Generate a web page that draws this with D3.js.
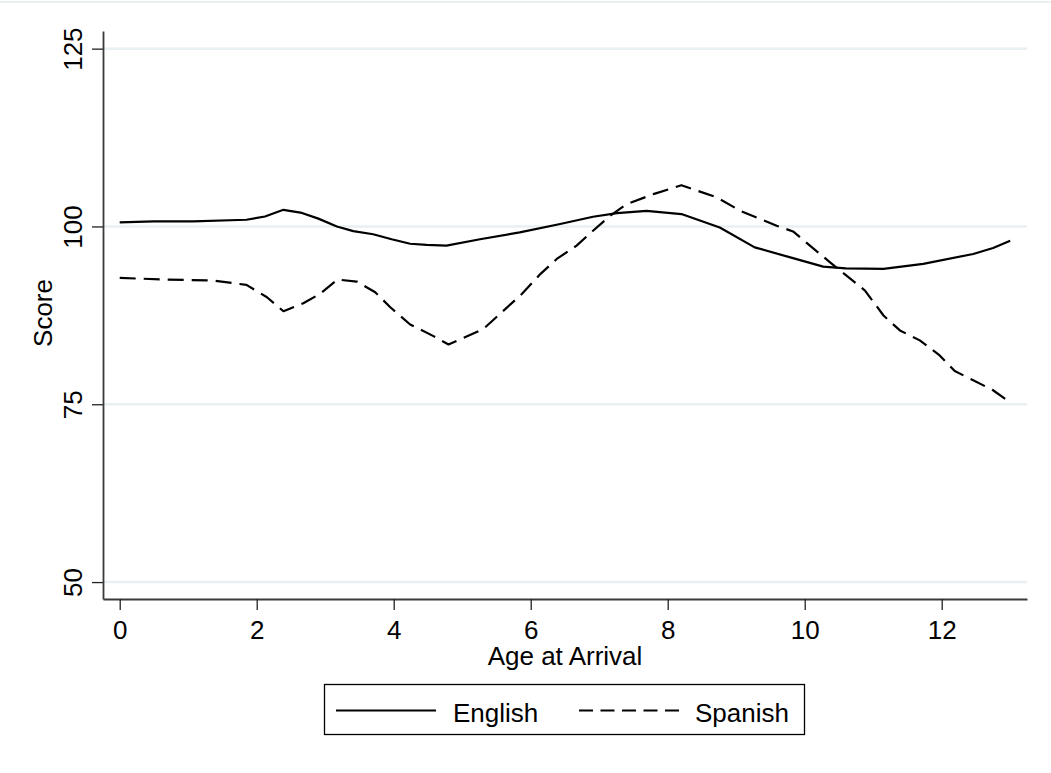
<!DOCTYPE html>
<html>
<head>
<meta charset="utf-8">
<script src="https://cdn.jsdelivr.net/npm/d3@7"></script>
<style>
  html, body { margin: 0; padding: 0; background: #fff; }
  svg { display: block; font-family: "Liberation Sans", Arial, sans-serif; }
</style>
</head>
<body>
<svg id="chart" width="1051" height="773"></svg>
<script>
// ---- data ----
const englishAge = [0, 0.5, 1.07, 1.85, 2.12, 2.39, 2.66, 2.9, 3.17, 3.41, 3.70, 3.97, 4.24, 4.48, 4.77, 5.26, 5.84, 6.43, 6.91, 7.26, 7.69, 8.20, 8.76, 9.27, 9.79, 10.27, 10.6, 11.15, 11.73, 12.46, 12.75, 13.0];
const englishScore = [100.56, 100.7, 100.7, 100.94, 101.4, 102.34, 101.9, 101.1, 100.0, 99.35, 98.9, 98.2, 97.57, 97.4, 97.3, 98.2, 99.16, 100.34, 101.36, 101.87, 102.2, 101.74, 99.86, 97.06, 95.65, 94.35, 94.1, 94.03, 94.73, 96.13, 96.97, 98.0];

const spanishAge = [0, 0.69, 1.37, 1.85, 2.15, 2.39, 2.68, 2.92, 3.18, 3.46, 3.73, 3.95, 4.24, 4.58, 4.80, 5.31, 5.55, 5.87, 6.14, 6.38, 6.67, 6.91, 7.16, 7.40, 7.79, 8.20, 8.72, 9.06, 9.59, 9.83, 10.37, 10.88, 11.15, 11.39, 11.68, 11.97, 12.19, 12.46, 12.75, 12.97];
const spanishScore = [92.76, 92.53, 92.4, 91.78, 90.05, 88.08, 89.2, 90.5, 92.53, 92.25, 90.75, 88.64, 86.22, 84.58, 83.4, 85.6, 87.7, 90.5, 93.3, 95.43, 97.3, 99.4, 101.5, 103.14, 104.54, 105.8, 104.07, 102.2, 100.1, 99.3, 94.95, 90.99, 87.48, 85.38, 83.98, 81.87, 79.67, 78.37, 76.97, 75.47];

const xTicks = [0, 2, 4, 6, 8, 10, 12];
const yTicks = [50, 75, 100, 125];
const seriesNames = ["English", "Spanish"];
const xTitle = "Age at Arrival";
const yTitle = "Score";

(function () {
  // ---- layout ----
  const svg = d3.select("#chart");
  const pLeft = 103, pRight = 1027, pTop = 31, pBottom = 599;
  const FONT = 26;

  const x = d3.scaleLinear().domain([-0.244, 13.245]).range([pLeft, pRight]);
  const y = d3.scaleLinear().domain([47.62, 127.48]).range([pBottom, pTop]);

  // outer region top edge
  svg.append("line")
    .attr("x1", 0).attr("x2", 1051).attr("y1", 2).attr("y2", 2)
    .attr("stroke", "#e8f0f2").attr("stroke-width", 2);

  // gridlines
  svg.append("g").selectAll("line").data(yTicks).join("line")
    .attr("x1", pLeft).attr("x2", pRight)
    .attr("y1", d => y(d)).attr("y2", d => y(d))
    .attr("stroke", "#e8f0f2").attr("stroke-width", 2.5);

  // axes
  const yAxis = svg.append("g")
    .attr("transform", `translate(${pLeft},0)`)
    .call(d3.axisLeft(y).tickValues(yTicks).tickSize(11).tickSizeOuter(0).tickFormat(d3.format("d")));
  const xAxis = svg.append("g")
    .attr("transform", `translate(0,${pBottom})`)
    .call(d3.axisBottom(x).tickValues(xTicks).tickSize(11).tickSizeOuter(0).tickFormat(d3.format("d")));

  [yAxis, xAxis].forEach(g => {
    g.select(".domain").attr("stroke", "#3a3a3a").attr("stroke-width", 1.8);
    g.selectAll(".tick line").attr("stroke", "#222").attr("stroke-width", 1.3);
    g.selectAll(".tick text")
      .attr("fill", "#000")
      .style("font-size", FONT + "px")
      .style("font-family", '"Liberation Sans", Arial, sans-serif');
  });

  yAxis.selectAll(".tick text")
    .attr("transform", "rotate(-90)")
    .attr("x", 0).attr("y", -21).attr("dy", 0)
    .attr("text-anchor", "middle");

  xAxis.selectAll(".tick text")
    .attr("y", 40).attr("dy", 0)
    .attr("text-anchor", "middle");

  // axis titles
  svg.append("text")
    .attr("x", (pLeft + pRight) / 2).attr("y", 665)
    .attr("text-anchor", "middle")
    .style("font-size", FONT + "px")
    .text(xTitle);

  svg.append("text")
    .attr("transform", `translate(52,${(pTop + pBottom) / 2 - 2}) rotate(-90)`)
    .attr("text-anchor", "middle")
    .style("font-size", FONT + "px")
    .text(yTitle);

  // lines
  const line = d3.line().x(d => x(d[0])).y(d => y(d[1]));
  const englishData = englishAge.map((a, i) => [a, englishScore[i]]);
  const spanishData = spanishAge.map((a, i) => [a, spanishScore[i]]);

  svg.append("path")
    .datum(englishData)
    .attr("d", line)
    .attr("fill", "none").attr("stroke", "#000").attr("stroke-width", 2.2)
    .attr("stroke-linejoin", "round");

  svg.append("path")
    .datum(spanishData)
    .attr("d", line)
    .attr("fill", "none").attr("stroke", "#000").attr("stroke-width", 2.2)
    .attr("stroke-dasharray", "16,8")
    .attr("stroke-linejoin", "round");

  // legend
  const lg = svg.append("g");
  lg.append("rect")
    .attr("x", 324.5).attr("y", 684.5).attr("width", 480).attr("height", 50)
    .attr("fill", "#fff").attr("stroke", "#000").attr("stroke-width", 1.3);
  const ly = 710.5;
  lg.append("line").attr("x1", 336).attr("x2", 436).attr("y1", ly).attr("y2", ly)
    .attr("stroke", "#000").attr("stroke-width", 2.2);
  lg.append("text").attr("x", 453).attr("y", 721.5)
    .style("font-size", FONT + "px").text(seriesNames[0]);
  lg.append("line").attr("x1", 579).attr("x2", 679).attr("y1", ly).attr("y2", ly)
    .attr("stroke", "#000").attr("stroke-width", 2.2)
    .attr("stroke-dasharray", "14,7.5");
  lg.append("text").attr("x", 695).attr("y", 721.5)
    .style("font-size", FONT + "px").text(seriesNames[1]);
})();
</script>
</body>
</html>
